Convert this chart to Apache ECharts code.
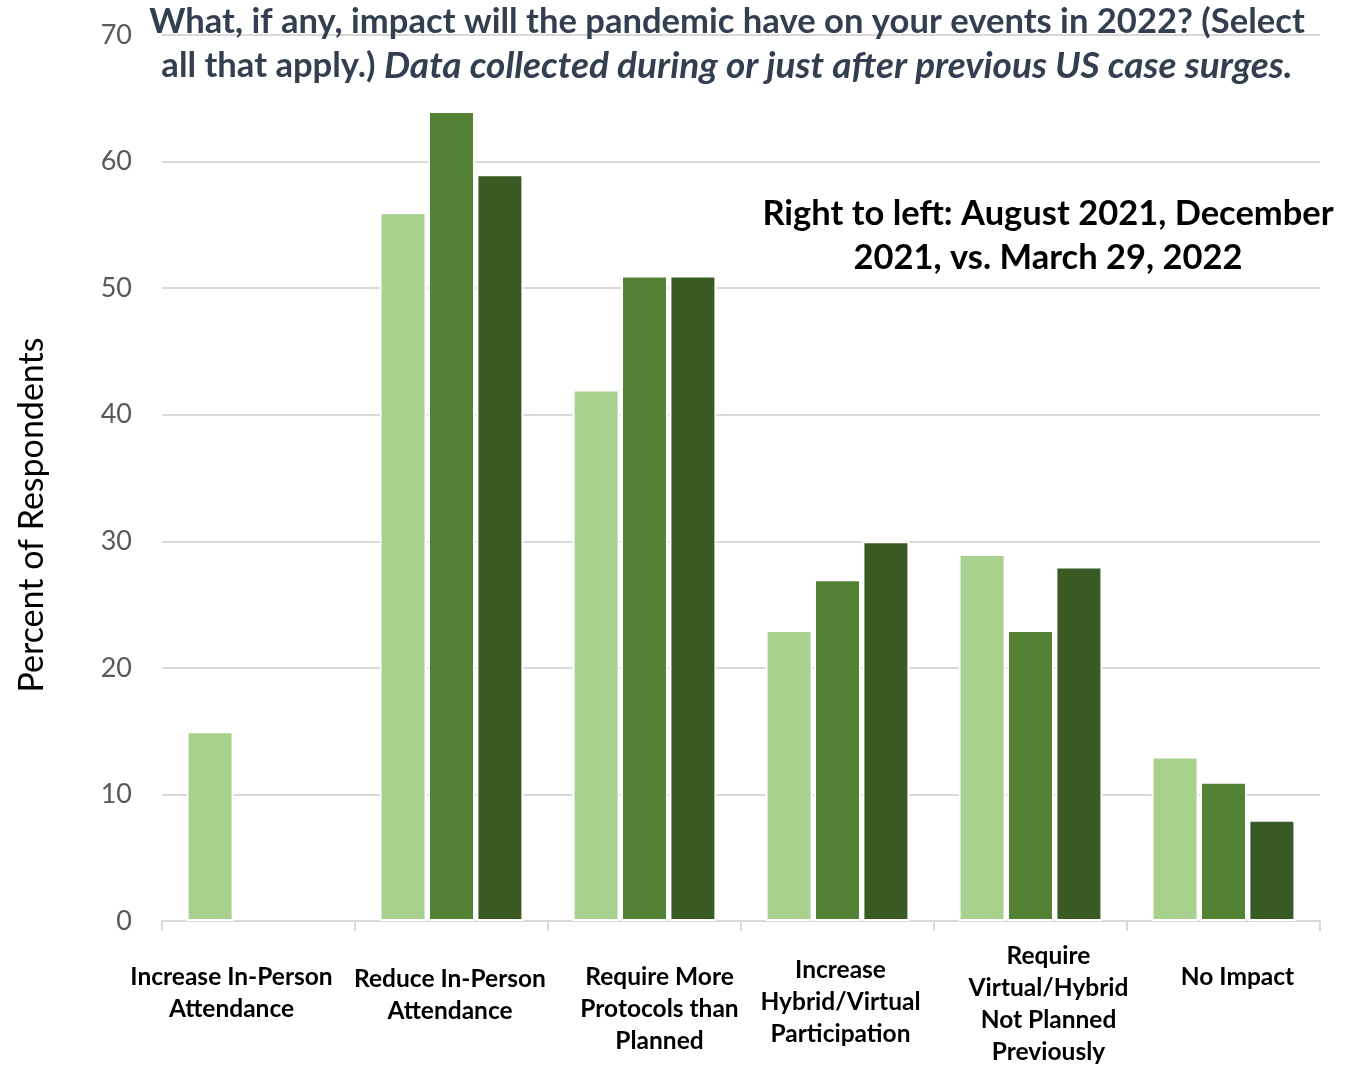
<!DOCTYPE html>
<html>
<head>
<meta charset="utf-8">
<script src="https://cdn.jsdelivr.net/npm/echarts@6/dist/echarts.min.js"></script>
<style>html,body{margin:0;padding:0;background:#fff}#c{width:1350px;height:1068px}</style>
</head>
<body>
<div id="c"></div>
<script>
const categories = [
  "Increase In-Person\nAttendance",
  "Reduce In-Person\nAttendance",
  "Require More\nProtocols than\nPlanned",
  "Increase\nHybrid/Virtual\nParticipation",
  "Require\nVirtual/Hybrid\nNot Planned\nPreviously",
  "No Impact"
];
const seriesNames = ["Series A", "Series B", "Series C"];
const valuesLight = [15, 56, 42, 23, 29, 13];
const valuesMedium = [null, 64, 51, 27, 23, 11];
const valuesDark = [null, 59, 51, 30, 28, 8];
const yTicks = [0, 10, 20, 30, 40, 50, 60, 70];

// layout only: label paddings [top, right, bottom, left] per category
const labelPad = [[21, 54, 0, 0], [23, 3, 0, 0], [21, 0, 0, 30], [14, 0, 0, 6], [0, 0, 0, 36], [21, 0, 0, 28]];
const colors = ["#A9D18E", "#548235", "#3A5A24"];
const FONT = "Lato";

const chart = echarts.init(document.getElementById('c'), null, {renderer: 'canvas'});
const catData = categories.map((c, i) => ({value: c, textStyle: {padding: labelPad[i]}}));
const mk = (name, data, color) => ({
  name, type: 'bar', data,
  barWidth: 47, barGap: '3%',
  itemStyle: {color, borderColor: '#fff', borderWidth: 2},
  emphasis: {disabled: true}
});
chart.setOption({
  animation: false,
  textStyle: {fontFamily: FONT},
  title: {
    left: 722, top: -5, textAlign: 'center',
    text: "{b|What, if any, impact will the pandemic have on your events in 2022? (Select}\n{b|all that apply.) }{bi|Data collected during or just after previous US case surges.}",
    textStyle: {
      rich: {
        b: {fontFamily: FONT, fontWeight: 'bold', fontSize: 34.6, color: '#333F50', lineHeight: 44},
        bi: {fontFamily: FONT, fontWeight: 'bold', fontStyle: 'italic', fontSize: 37, color: '#333F50', lineHeight: 44}
      }
    }
  },
  graphic: [{
    type: 'text', x: 1048, y: 192, z: 10,
    style: {
      text: "Right to left: August 2021, December\n2021, vs. March 29, 2022",
      align: 'center', verticalAlign: 'top',
      font: "bold 34.5px " + FONT, fill: '#000', lineHeight: 44
    }
  }, {
    type: 'text', x: 32, y: 515, rotation: Math.PI / 2, z: 10,
    style: {
      text: "Percent of Respondents",
      align: 'center', verticalAlign: 'middle',
      font: "34px " + FONT, fill: '#000'
    }
  }],
  grid: {left: 162, right: 30, top: 35, bottom: 143},
  xAxis: {
    type: 'category', data: catData,
    axisLine: {lineStyle: {color: '#D9D9D9', width: 2}},
    axisTick: {show: true, length: 10, lineStyle: {color: '#D9D9D9', width: 2}},
    axisLabel: {interval: 0, margin: 19, fontFamily: FONT, fontWeight: 'bold', fontSize: 24.5, color: '#000', lineHeight: 32, verticalAlign: 'top'}
  },
  yAxis: {
    type: 'value', min: yTicks[0], max: yTicks[yTicks.length - 1], interval: 10,
    axisLine: {show: false}, axisTick: {show: false},
    axisLabel: {margin: 30, fontFamily: FONT, fontSize: 27, color: '#595959'},
    splitLine: {lineStyle: {color: '#D9D9D9', width: 2}}
  },
  series: [
    mk(seriesNames[0], valuesLight, colors[0]),
    mk(seriesNames[1], valuesMedium, colors[1]),
    mk(seriesNames[2], valuesDark, colors[2])
  ]
});
</script>
</body>
</html>
